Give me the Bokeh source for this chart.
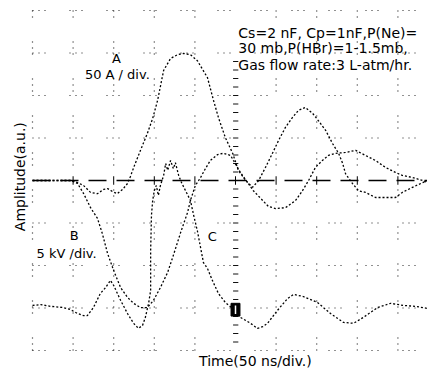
from bokeh.plotting import figure
from bokeh.models import Range1d
from bokeh.core.properties import value
from bokeh.embed import file_html
from bokeh.resources import INLINE
import numpy as np

# ---- data (oscilloscope divisions: time 50 ns/div, amplitude in div) ----
a_t = [0, 0.44, 0.94, 1.11, 1.26, 1.43, 1.60, 1.75, 1.85, 1.97, 2.09, 2.22, 2.34, 2.41, 2.51,
       2.66, 2.83, 2.96, 3.08, 3.23, 3.40, 3.57, 3.72, 3.89, 4.06, 4.31, 4.46, 4.58, 4.75,
       4.93, 5.07, 5.25, 5.42, 5.57, 5.74, 5.91, 6.06, 6.23, 6.40, 6.55, 6.72, 6.90, 7.04,
       7.22, 7.39, 7.54, 7.64, 7.71, 7.88, 8.03, 8.20, 8.45, 8.69, 8.94, 9.11, 9.36, 9.61, 9.73]
a_v = [0, 0, 0, -0.05, -0.12, -0.28, -0.31, -0.21, -0.19, -0.26, -0.31, -0.21, -0.07, 0.09, 0.35,
       0.71, 1.11, 1.46, 1.88, 2.59, 2.87, 2.96, 2.99, 2.96, 2.82, 2.42, 1.88, 1.48, 1.01,
       0.64, 0.24, 0, -0.16, 0, 0.31, 0.64, 0.94, 1.25, 1.48, 1.65, 1.72, 1.58, 1.41,
       1.18, 0.87, 0.64, 0.40, 0.16, -0.07, -0.24, -0.28, -0.40, -0.40, -0.40, -0.28, -0.16, -0.05, 0]

b_t = [0, 0.94, 1.11, 1.26, 1.43, 1.60, 1.72, 1.85, 2.00, 2.17, 2.34, 2.49, 2.66, 2.83, 2.98,
       3.15, 3.33, 3.47, 3.65, 3.82, 3.89, 4.01, 4.14, 4.26, 4.38, 4.56, 4.70, 4.88, 4.95,
       5.12, 5.30, 5.44, 5.67, 5.81, 5.99, 6.23, 6.48, 6.65, 6.80, 6.97, 7.14, 7.29, 7.46,
       7.71, 7.96, 8.20, 8.45, 8.69, 8.94, 9.11, 9.36, 9.61, 9.73]
b_v = [0, 0, -0.07, -0.31, -0.64, -0.89, -1.25, -1.72, -2.12, -2.52, -2.75, -2.89, -2.99, -2.99, -2.82,
       -2.52, -2.16, -1.76, -1.22, -0.75, -0.47, -0.12, 0.07, 0.28, 0.47, 0.61, 0.64, 0.59, 0.47,
       0.19, -0.05, -0.24, -0.47, -0.61, -0.66, -0.64, -0.47, -0.24, 0, 0.31, 0.47, 0.59, 0.64,
       0.66, 0.71, 0.59, 0.47, 0.31, 0.19, 0.12, 0.07, 0, -0.05]

c_t = [0, 0.20, 0.44, 0.76, 0.94, 1.11, 1.26, 1.35, 1.43, 1.50, 1.67, 1.80, 1.92, 2.00, 2.17,
       2.34, 2.49, 2.61, 2.71, 2.78, 2.86, 2.91, 2.91, 2.93, 2.96, 3.00, 3.05, 3.10, 3.15,
       3.23, 3.28, 3.33, 3.40, 3.47, 3.52, 3.60, 3.67, 3.77, 3.89, 3.97, 4.06, 4.14, 4.21,
       4.31, 4.43, 4.58, 4.75, 4.93, 5.12, 5.37, 5.54, 5.67, 5.79, 6.03, 6.28, 6.43, 6.67,
       7.02, 7.34, 7.66, 7.91, 8.15, 8.50, 8.82, 9.14, 9.43, 9.73]
c_v = [-2.94, -2.92, -2.96, -2.99, -3.04, -3.13, -3.18, -3.18, -3.08, -2.99, -2.66, -2.52, -2.35, -2.47, -2.82,
       -3.13, -3.36, -3.48, -3.41, -3.22, -2.89, -2.59, -1.65, -0.82, -0.47, -0.24, -0.12, -0.35, -0.12,
       0.12, 0.40, 0.24, 0.47, 0.28, 0.42, 0.12, -0.05, -0.24, -0.47, -0.82, -1.18, -1.58, -1.93,
       -2.07, -2.35, -2.66, -2.87, -3.01, -3.22, -3.36, -3.48, -3.44, -3.36, -3.06, -2.78, -2.68, -2.73,
       -2.87, -3.13, -3.34, -3.36, -3.22, -2.99, -2.89, -2.94, -2.96, -3.01]

marker_t = [5.0]
marker_v = [-3.04]

conditions = ["Cs=2 nF, Cp=1nF,P(Ne)=",
              "30 mb,P(HBr)=1-1.5mb,",
              "Gas flow rate:3 L-atm/hr."]

# ---- figure: whole canvas is the scope screen area ----
X0, X1 = -32 / 40.6, 395 / 40.6
Y0, Y1 = -191 / 42.5, 180 / 42.5
p = figure(width=427, height=371, x_range=Range1d(X0, X1), y_range=Range1d(Y0, Y1),
           x_axis_type=None, y_axis_type=None, output_backend="svg",
           toolbar_location=None, min_border=0, outline_line_color=None,
           background_fill_color="white", border_fill_color="white")

dot = "1 5 1 5 1 24"
gc = "#222222"
# horizontal graticule rows
rows = [k for k in range(-4, 5) if k != 0]
p.segment(x0=[0] * len(rows), y0=rows, x1=[X1] * len(rows), y1=rows,
          line_color=gc, line_width=1.2, line_dash=dot)
# vertical graticule columns
cols = [k for k in range(0, 10) if k != 5]
p.segment(x0=cols, y0=[-4] * len(cols), x1=cols, y1=[4] * len(cols),
          line_color=gc, line_width=1.2, line_dash=dot)
# centre horizontal axis (dashed) with major ticks
p.segment(x0=[0], y0=[0], x1=[X1], y1=[0], line_color="black", line_width=1.4, line_dash="18 10")
tk = list(range(1, 10))
p.segment(x0=tk, y0=[-0.1] * len(tk), x1=tk, y1=[0.1] * len(tk), line_color="black", line_width=1.0)
# centre vertical axis minor ticks
mt = [round(v, 2) for v in np.arange(-3.8, 2.81, 0.2) if abs(v) > 1e-6]
p.segment(x0=[4.94] * len(mt), y0=mt, x1=[5.07] * len(mt), y1=mt, line_color="#111111", line_width=1.0)

# traces
for t, v in [(a_t, a_v), (b_t, b_v), (c_t, c_v)]:
    p.line(t, v, line_color="black", line_width=1.3, line_dash="2 2")

# marker on trace
p.rect(x=marker_t, y=marker_v, width=0.22, height=0.30, fill_color="black", line_color="black")
p.segment(x0=marker_t, y0=[marker_v[0] - 0.1], x1=marker_t, y1=[marker_v[0] + 0.1],
          line_color="white", line_width=1.5)

font = value("DejaVu Sans")

def txt(x, y, s, size, align="center", angle=0.0):
    p.text(x=x, y=y, text=s, text_font=font, text_font_size=value(size),
           text_align=align, text_baseline="middle", angle=angle, text_color="black")

txt([2.07], [2.87], ["A"], "13px")
txt([2.09], [2.49], ["50 A / div."], "13px")
txt([1.03], [-1.29], ["B"], "13px")
txt([0.84], [-1.72], ["5 kV /div."], "13px")
txt([4.43], [-1.32], ["C"], "13px")
txt([5.07] * 3, [3.48, 3.11, 2.71], conditions, "14px", align="left")
txt([5.49], [-4.24], ["Time(50 ns/div.)"], "14px")
txt([-0.32], [0.09], ["Amplitude(a.u.)"], "14px", angle=np.pi / 2)

open("out.html", "w").write(file_html(p, INLINE))
